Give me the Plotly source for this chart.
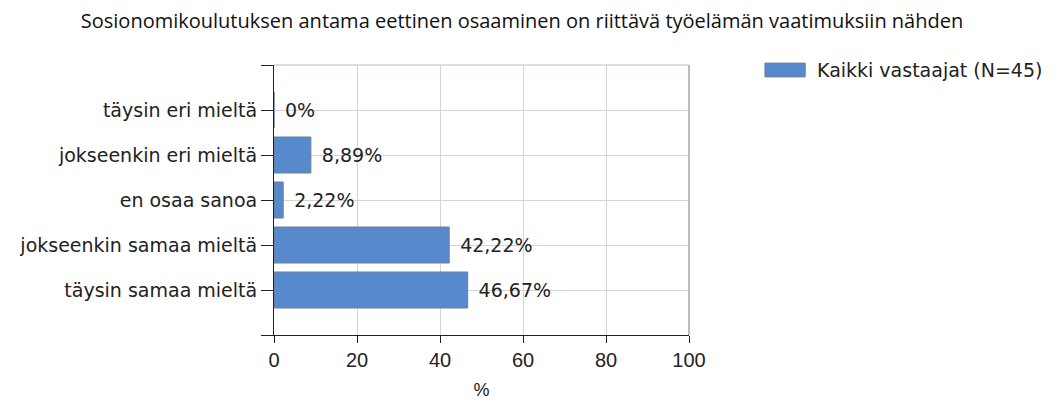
import plotly.graph_objects as go

# data
categories = ["täysin eri mieltä", "jokseenkin eri mieltä", "en osaa sanoa",
              "jokseenkin samaa mieltä", "täysin samaa mieltä"]
values = [0, 8.89, 2.22, 42.22, 46.67]
labels = ["0%", "8,89%", "2,22%", "42,22%", "46,67%"]
series_name = "Kaikki vastaajat (N=45)"
title = "Sosionomikoulutuksen antama eettinen osaaminen on riittävä työelämän vaatimuksiin nähden"

positions = list(range(1, len(categories) + 1))
bar_color = "#5789cd"
edge = "#6b7f99"

fig = go.Figure()
fig.add_trace(go.Bar(
    x=values, y=positions, orientation="h", width=0.8,
    marker=dict(color=bar_color, line=dict(color=edge, width=1)),
    text=labels, texttemplate=" \u200a%{text}", textposition="outside", cliponaxis=False,
    textfont=dict(family="DejaVu Sans", size=19, color="#222"),
    name=series_name, showlegend=False,
))

fig.update_layout(
    width=1062, height=401,
    margin=dict(l=266, r=381, t=57, b=74),
    paper_bgcolor="white", plot_bgcolor="white",
    title=dict(text=title, x=0.484, xref="container", xanchor="center",
               y=0.968, yref="container", yanchor="middle",
               font=dict(family="Open Sans", size=20, color="#111")),
    font=dict(family="DejaVu Sans", color="#222"),
    xaxis=dict(range=[0, 100], tickvals=[0, 20, 40, 60, 80, 100],
               automargin=False,
               showgrid=True, gridcolor="#d4d4d4", gridwidth=1,
               zeroline=False, showline=True, linecolor="#222", linewidth=1,
               ticks="outside", ticklen=7, tickcolor="#222",
               tickfont=dict(size=20, family="Liberation Sans"),
               title=dict(text="%", font=dict(size=18, family="Liberation Sans"),
                          standoff=13)),
    yaxis=dict(range=[6, 0], tickvals=list(range(0, 7)),
               ticktext=[""] + categories + [""],
               automargin=False,
               showgrid=True, gridcolor="#d4d4d4", gridwidth=1,
               zeroline=False, showline=True, linecolor="#222", linewidth=1,
               ticks="outside", ticklen=12, tickcolor="#222",
               tickfont=dict(size=19, family="DejaVu Sans")),
)

# right border of plot area (bluish gray) and top border
fig.add_shape(type="line", xref="paper", yref="paper", x0=1, x1=1, y0=0, y1=1,
              line=dict(color="#9aa8ba", width=1.5))
fig.add_shape(type="line", xref="paper", yref="paper", x0=0, x1=1, y0=1, y1=1,
              line=dict(color="#b8c0cc", width=1))

# legend drawn manually to match the wide swatch
fig.add_shape(type="rect", xref="paper", yref="paper",
              x0=1.183, x1=1.28, y0=1.007, y1=0.956,
              fillcolor=bar_color, line=dict(color=edge, width=1))
fig.add_annotation(text=series_name, xref="paper", yref="paper",
                   x=1.304, y=0.981, xanchor="left", yanchor="middle",
                   showarrow=False,
                   font=dict(family="DejaVu Sans", size=19, color="#222"))

fig.write_html("out.html")
